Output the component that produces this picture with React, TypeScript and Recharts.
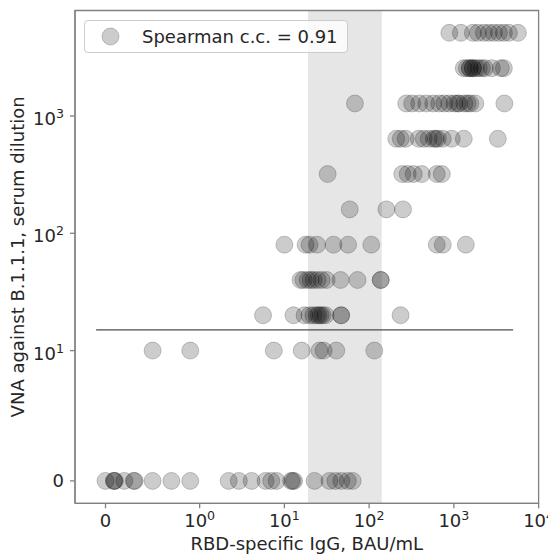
import React from 'react'
import {
  ScatterChart,
  Scatter,
  XAxis,
  YAxis,
  ReferenceArea,
  ReferenceLine,
  Legend,
} from 'recharts'

const dilutions = [0, 10, 20, 40, 80, 160, 320, 640, 1280, 2560, 5120]
const iggAt0 = [0, 0.09, 0.09, 0.1, 0.2, 0.3, 0.31, 0.5, 0.7, 0.9, 2.2, 2.9, 4.1, 6, 7, 8.1, 12, 12.5, 13, 22.7, 34, 40, 47, 56, 64]
const iggAt10 = [0.5, 0.9, 7.5, 16, 26, 29, 41, 115]
const iggAt20 = [5.6, 12.8, 17.3, 19.8, 22, 24, 25.3, 26.7, 28.2, 30.6, 46.7, 46.7, 235]
const iggAt40 = [15.5, 16.8, 18.8, 20.4, 22.1, 24.6, 27.5, 31.5, 46, 73, 137, 137]
const iggAt80 = [10, 17.8, 19.8, 24.3, 38, 56.5, 106, 628, 740, 1384]
const iggAt160 = [59, 160, 251]
const iggAt320 = [32.4, 246, 285, 336, 418, 628, 720]
const iggAt640 = [209, 236, 270, 385, 441, 505, 579, 611, 646, 740, 944, 1309, 3304]
const iggAt1280 = [68, 274, 322, 390, 472, 571, 673, 771, 883, 1012, 1100, 1159, 1328, 1450, 1563, 1791, 3945]
const iggAt2560 = [1309, 1422, 1542, 1542, 1675, 1675, 1816, 1968, 2138, 2317, 2805, 3581, 3890]
const iggAt5120 = [883, 1208, 1675, 1919, 2259, 2588, 2965, 3396, 3890, 4457, 5702]
const iggRows = [iggAt0, iggAt10, iggAt20, iggAt40, iggAt80, iggAt160, iggAt320, iggAt640, iggAt1280, iggAt2560, iggAt5120]

const xTickValues = [0, 1, 10, 100, 1000, 10000]
const xTickLabels = [['0', ''], ['10', '0'], ['10', '1'], ['10', '2'], ['10', '3'], ['10', '4']]
const yTickValues = [0, 10, 100, 1000]
const yTickLabels = [['0', ''], ['10', '1'], ['10', '2'], ['10', '3']]

const gateLow = 19
const gateHigh = 141
const cutoff = 15
const cutoffFrom = -0.1
const cutoffTo = 5000
const legendText = 'Spearman c.c. = 0.91'

// matplotlib style symlog (linscale 1, base 10)
const LIN = 1 / (1 - 1 / 10)
function symlog(v: number, linthresh: number) {
  const a = Math.abs(v) / linthresh
  const t = a <= 1 ? a * LIN : LIN + Math.log10(a)
  return Math.sign(v) * t
}
const sx = (v: number) => symlog(v, 1)
const sy = (v: number) => symlog(v, 10)

const points = dilutions.flatMap((d, i) =>
  iggRows[i].map((g) => ({ igg: g, vna: d, tx: sx(g), ty: sy(d) }))
)

const X_DOMAIN: [number, number] = [-0.36, 5.111]
const Y_DOMAIN: [number, number] = [-0.191, 4.011]
const FONT = '"DejaVu Sans", sans-serif'
const FS = 18
const TEXT = '#262626'
const SPINE = '#808080'

function findLabel(values: number[], labels: string[][], f: (v: number) => number, t: number) {
  const i = values.findIndex((v) => Math.abs(f(v) - t) < 1e-6)
  return i >= 0 ? labels[i] : ['', '']
}

function XTick(props: any) {
  const { x, y, payload } = props
  const [base, exp] = findLabel(xTickValues, xTickLabels, sx, payload.value)
  return (
    <text x={x} y={y} textAnchor="middle" fontFamily={FONT} fontSize={FS} fill={TEXT}>
      <tspan dy="0.71em">{base}</tspan>
      {exp && <tspan dy={-7} fontSize={12.6}>{exp}</tspan>}
    </text>
  )
}

function YTick(props: any) {
  const { x, y, payload } = props
  const [base, exp] = findLabel(yTickValues, yTickLabels, sy, payload.value)
  return (
    <text x={x} y={y} textAnchor="end" fontFamily={FONT} fontSize={FS} fill={TEXT}>
      <tspan dy={exp ? '0.5em' : '0.355em'}>{base}</tspan>
      {exp && <tspan dy={-7} fontSize={12.6}>{exp}</tspan>}
    </text>
  )
}

function Dot(props: any) {
  const { cx, cy } = props
  return (
    <circle cx={cx} cy={cy} r={8.5} fill="#000" fillOpacity={0.2} stroke="#000" strokeOpacity={0.2} strokeWidth={1} />
  )
}

function LegendBox() {
  return (
    <div
      style={{
        boxSizing: 'border-box',
        width: 264,
        height: 33,
        border: '1px solid #cccccc',
        borderRadius: 4,
        background: 'rgba(255,255,255,0.8)',
        position: 'relative',
        fontFamily: FONT,
        fontSize: FS,
        color: TEXT,
      }}
    >
      <svg width={40} height={31} style={{ position: 'absolute', left: 5, top: 0 }}>
        <circle cx={20.5} cy={15.5} r={8.5} fill="#000" fillOpacity={0.2} stroke="#000" strokeOpacity={0.2} />
      </svg>
      <span style={{ position: 'absolute', left: 57, top: 5, lineHeight: '21px', whiteSpace: 'nowrap' }}>
        {legendText}
      </span>
    </div>
  )
}

export default function App() {
  return (
    <div style={{ position: 'absolute', left: 0, top: 0, width: 548, height: 556, background: '#fff' }}>
      <ScatterChart width={548} height={556} margin={{ top: 10.5, right: 9.4, bottom: 0, left: 0 }}>
        <XAxis
          type="number"
          dataKey="tx"
          domain={X_DOMAIN}
          ticks={xTickValues.map(sx)}
          interval={0}
          allowDataOverflow
          height={52.7}
          tickSize={5}
          tickMargin={6}
          axisLine={{ stroke: SPINE, strokeWidth: 1.3 }}
          tickLine={{ stroke: SPINE, strokeWidth: 1.3 }}
          tick={XTick}
          label={(p: any) => {
            const vb = p.viewBox || { x: 75, y: 503.3, width: 463.6 }
            return (
              <text
                x={vb.x + vb.width / 2}
                y={vb.y + 47}
                textAnchor="middle"
                fontFamily={FONT}
                fontSize={FS}
                fill={TEXT}
              >
                RBD-specific IgG, BAU/mL
              </text>
            )
          }}
        />
        <YAxis
          type="number"
          dataKey="ty"
          domain={Y_DOMAIN}
          ticks={yTickValues.map(sy)}
          interval={0}
          allowDataOverflow
          width={75}
          tickSize={5}
          tickMargin={6}
          axisLine={{ stroke: SPINE, strokeWidth: 1.3 }}
          tickLine={{ stroke: SPINE, strokeWidth: 1.3 }}
          tick={YTick}
          label={(p: any) => {
            const vb = p.viewBox || { x: 0, y: 10.5, height: 492.8 }
            const cy = vb.y + vb.height / 2
            return (
              <text
                x={24}
                y={cy}
                transform={`rotate(-90 24 ${cy})`}
                textAnchor="middle"
                fontFamily={FONT}
                fontSize={FS}
                fill={TEXT}
              >
                VNA against B.1.1.1, serum dilution
              </text>
            )
          }}
        />
        <ReferenceArea x1={sx(gateLow)} x2={sx(gateHigh)} fill="#808080" fillOpacity={0.2} stroke="none" />
        <ReferenceArea
          x1={X_DOMAIN[0]}
          x2={X_DOMAIN[1]}
          y1={Y_DOMAIN[0]}
          y2={Y_DOMAIN[1]}
          fill="none"
          stroke={SPINE}
          strokeWidth={1.3}
        />
        <ReferenceLine
          segment={[
            { x: sx(cutoffFrom), y: sy(cutoff) },
            { x: sx(cutoffTo), y: sy(cutoff) },
          ]}
          stroke="#4d4d4d"
          strokeWidth={1.2}
        />
        <Scatter data={points} isAnimationActive={false} shape={Dot} />
        <Legend
          layout="horizontal"
          verticalAlign="middle"
          align="center"
          wrapperStyle={{ left: 84, top: 20, width: 264 }}
          content={() => <LegendBox />}
        />
      </ScatterChart>
    </div>
  )
}
